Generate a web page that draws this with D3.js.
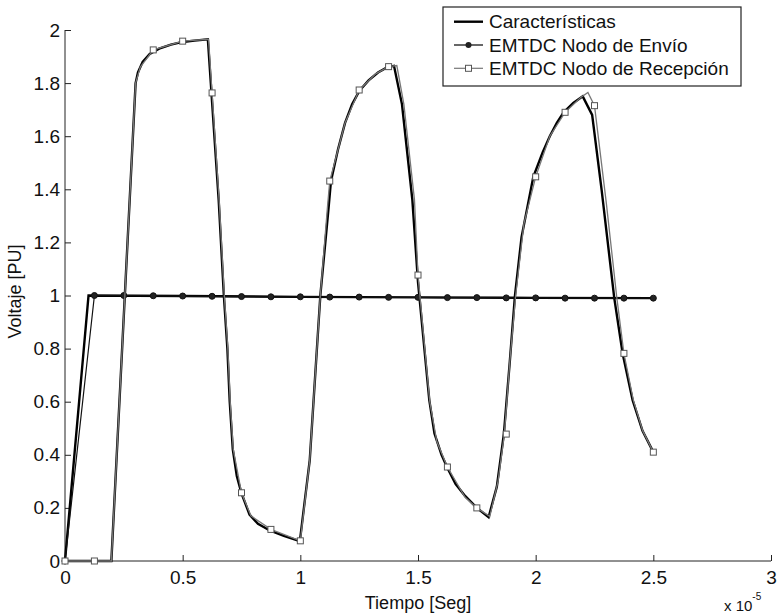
<!DOCTYPE html>
<html>
  <head>
    <script src="https://d3js.org/d3.v7.min.js"></script>
    <style>
      body { margin: 0; background: #fff; }
      text { font-family: "Liberation Sans", Arial, sans-serif; fill: #111; }
    </style>
  </head>
  <body>
    <div id="chart"></div>
    <script>
      // time in units of 1e-5 s
      const charSendT = [0, 0.1, 0.5, 1.0, 1.5, 2.0, 2.5];
      const charSendV = [0, 1.0, 0.998, 0.995, 0.993, 0.991, 0.99];

      const charRecvT = [0, 0.197, 0.30, 0.31, 0.33, 0.36, 0.40, 0.45, 0.50, 0.55, 0.607,
        0.653, 0.675, 0.69, 0.70, 0.713, 0.73, 0.75, 0.784, 0.82, 0.87, 0.93, 0.998,
        1.04, 1.085, 1.12, 1.13, 1.16, 1.19, 1.22, 1.25, 1.29, 1.33, 1.37, 1.398,
        1.432, 1.476, 1.50, 1.548, 1.57, 1.60, 1.625, 1.66, 1.70, 1.75, 1.80,
        1.835, 1.865, 1.89, 1.912, 1.94, 1.99, 2.03, 2.06, 2.09, 2.119, 2.16, 2.20,
        2.24, 2.28, 2.334, 2.37, 2.412, 2.454, 2.5];
      const charRecvV = [0, 0, 1.80, 1.84, 1.88, 1.91, 1.93, 1.945, 1.955, 1.96, 1.965,
        1.36, 1.0, 0.8, 0.6, 0.42, 0.32, 0.255, 0.175, 0.14, 0.115, 0.095, 0.075,
        0.38, 1.0, 1.33, 1.43, 1.55, 1.65, 1.72, 1.77, 1.81, 1.84, 1.86, 1.865,
        1.72, 1.36, 1.05, 0.606, 0.48, 0.40, 0.35, 0.29, 0.245, 0.2, 0.165,
        0.28, 0.48, 0.75, 1.0, 1.22, 1.447, 1.54, 1.6, 1.65, 1.69, 1.725, 1.75,
        1.68, 1.4, 0.99, 0.78, 0.606, 0.49, 0.41];

      const sendMarkT = [0, 0.125, 0.25, 0.375, 0.5, 0.625, 0.75, 0.875, 1.0, 1.125, 1.25,
        1.375, 1.5, 1.625, 1.75, 1.875, 2.0, 2.125, 2.25, 2.375, 2.5];
      const sendMarkV = [0, 1.0, 1.0, 0.999, 0.998, 0.997, 0.996, 0.995, 0.995, 0.994, 0.994,
        0.993, 0.993, 0.992, 0.992, 0.991, 0.991, 0.99, 0.99, 0.99, 0.99];

      const recvEmtT = [0, 0.197, 0.30, 0.32, 0.375, 0.5, 0.61, 0.625, 0.655, 0.677, 0.692,
        0.702, 0.715, 0.75, 0.79, 0.875, 1.0, 1.04, 1.085, 1.115, 1.125, 1.19, 1.25,
        1.32, 1.375, 1.41, 1.44, 1.485, 1.5, 1.55, 1.58, 1.625, 1.7, 1.75, 1.805,
        1.84, 1.867, 1.89, 1.915, 1.95, 2.0, 2.06, 2.125, 2.19, 2.222, 2.25, 2.3,
        2.345, 2.375, 2.415, 2.455, 2.5];
      const recvEmtV = [0, 0, 1.80, 1.86, 1.925, 1.958, 1.965, 1.763, 1.36, 1.0, 0.8,
        0.6, 0.42, 0.257, 0.17, 0.119, 0.076, 0.38, 1.0, 1.33, 1.431, 1.65, 1.774,
        1.835, 1.862, 1.866, 1.72, 1.36, 1.077, 0.6, 0.45, 0.354, 0.24, 0.2, 0.168,
        0.3, 0.478, 0.75, 1.0, 1.27, 1.447, 1.6, 1.69, 1.745, 1.765, 1.715, 1.35,
        0.99, 0.782, 0.606, 0.49, 0.41];

      const recvMarkT = [0, 0.125, 0.375, 0.5, 0.625, 0.75, 0.875, 1.0, 1.125, 1.25, 1.375,
        1.5, 1.625, 1.75, 1.875, 2.0, 2.125, 2.25, 2.375, 2.5];
      const recvMarkV = [0, 0, 1.925, 1.958, 1.763, 0.257, 0.119, 0.076, 1.431, 1.774, 1.862,
        1.077, 0.354, 0.2, 0.478, 1.447, 1.69, 1.715, 0.782, 0.41];

      const xTicks = [0, 0.5, 1, 1.5, 2, 2.5, 3];
      const yTicks = [0, 0.2, 0.4, 0.6, 0.8, 1, 1.2, 1.4, 1.6, 1.8, 2];
      const legendNames = ["Características", "EMTDC Nodo de Envío", "EMTDC Nodo de Recepción"];

      const margin = { top: 30, right: 6, bottom: 55, left: 65 };
      const width = 777 - margin.left - margin.right;
      const height = 616 - margin.top - margin.bottom;

      const root = d3.select("#chart").append("svg")
        .attr("width", 777).attr("height", 616);
      const svg = root.append("g")
        .attr("transform", `translate(${margin.left}, ${margin.top})`);

      const x = d3.scaleLinear().domain([0, 3]).range([0, width]);
      const y = d3.scaleLinear().domain([0, 2]).range([height, 0]);

      const zip = (t, v) => t.map((d, i) => [d, v[i]]);
      const line = d3.line().x(d => x(d[0])).y(d => y(d[1]));

      // axes (MATLAB style, ticks inside, only left and bottom)
      const xAxis = svg.append("g")
        .attr("transform", `translate(0, ${height})`)
        .call(d3.axisBottom(x).tickValues(xTicks).tickSize(-6).tickPadding(10)
          .tickFormat(d3.format("")));
      const yAxis = svg.append("g")
        .call(d3.axisLeft(y).tickValues(yTicks).tickSize(-6).tickPadding(5)
          .tickFormat(d3.format("")));
      [xAxis, yAxis].forEach(a => {
        a.select(".domain").attr("stroke", "#222");
        a.selectAll(".tick line").attr("stroke", "#222");
        a.selectAll("text").style("font-size", "19px").attr("fill", "#111");
      });
      xAxis.select(".domain").attr("d", `M0,0H${width}`);
      yAxis.select(".domain").attr("d", `M0,0V${height}`);

      // characteristic curves
      svg.append("path").datum(zip(charSendT, charSendV))
        .attr("d", line).attr("fill", "none").attr("stroke", "#000").attr("stroke-width", 2.4);
      svg.append("path").datum(zip(charRecvT, charRecvV))
        .attr("d", line).attr("fill", "none").attr("stroke", "#000").attr("stroke-width", 2.4);

      // EMTDC sending
      svg.append("path").datum(zip(sendMarkT, sendMarkV))
        .attr("d", line).attr("fill", "none").attr("stroke", "#111").attr("stroke-width", 1.2);
      svg.selectAll(".sdot").data(zip(sendMarkT, sendMarkV)).enter()
        .append("circle").attr("class", "sdot")
        .attr("cx", d => x(d[0])).attr("cy", d => y(d[1])).attr("r", 3)
        .attr("fill", "#222").attr("stroke", "#111").attr("stroke-width", 1);

      // EMTDC receiving
      svg.append("path").datum(zip(recvEmtT, recvEmtV))
        .attr("d", line).attr("fill", "none").attr("stroke", "#777").attr("stroke-width", 1.3);
      svg.selectAll(".rsq").data(zip(recvMarkT, recvMarkV)).enter()
        .append("rect").attr("class", "rsq")
        .attr("x", d => x(d[0]) - 3).attr("y", d => y(d[1]) - 3)
        .attr("width", 6).attr("height", 6)
        .attr("fill", "#fff").attr("stroke", "#555").attr("stroke-width", 1);

      // axis labels
      svg.append("text")
        .attr("x", 353).attr("y", height + 48)
        .style("text-anchor", "middle").style("font-size", "18px")
        .text("Tiempo [Seg]");
      svg.append("text")
        .attr("transform", "rotate(-90)")
        .attr("x", -(height / 2) + 4).attr("y", -44)
        .style("text-anchor", "middle").style("font-size", "18px")
        .text("Voltaje [PU]");
      const exp = svg.append("text")
        .attr("x", 659).attr("y", height + 50)
        .style("font-size", "15px");
      exp.append("tspan").text("x 10");
      exp.append("tspan").attr("dy", -11).style("font-size", "10px").text("-5");

      // legend
      const lg = root.append("g").attr("transform", "translate(443, 7)");
      lg.append("rect").attr("width", 298).attr("height", 79)
        .attr("fill", "#fff").attr("stroke", "#222").attr("stroke-width", 1.2);
      const rows = lg.selectAll(".row").data(legendNames).enter()
        .append("g").attr("transform", (d, i) => `translate(0, ${14.7 + i * 23.3})`);
      rows.append("line").attr("x1", 11).attr("x2", 40)
        .attr("stroke", (d, i) => i === 2 ? "#777" : "#000")
        .attr("stroke-width", (d, i) => i === 0 ? 2.4 : 1.2);
      rows.filter((d, i) => i === 1).append("circle")
        .attr("cx", 25.5).attr("r", 3).attr("fill", "#222");
      rows.filter((d, i) => i === 2).append("rect")
        .attr("x", 22.5).attr("y", -3).attr("width", 6).attr("height", 6)
        .attr("fill", "#fff").attr("stroke", "#555");
      rows.append("text").attr("x", 46).attr("dy", "0.35em")
        .style("font-size", "19px").text(d => d);
    </script>
  </body>
</html>
